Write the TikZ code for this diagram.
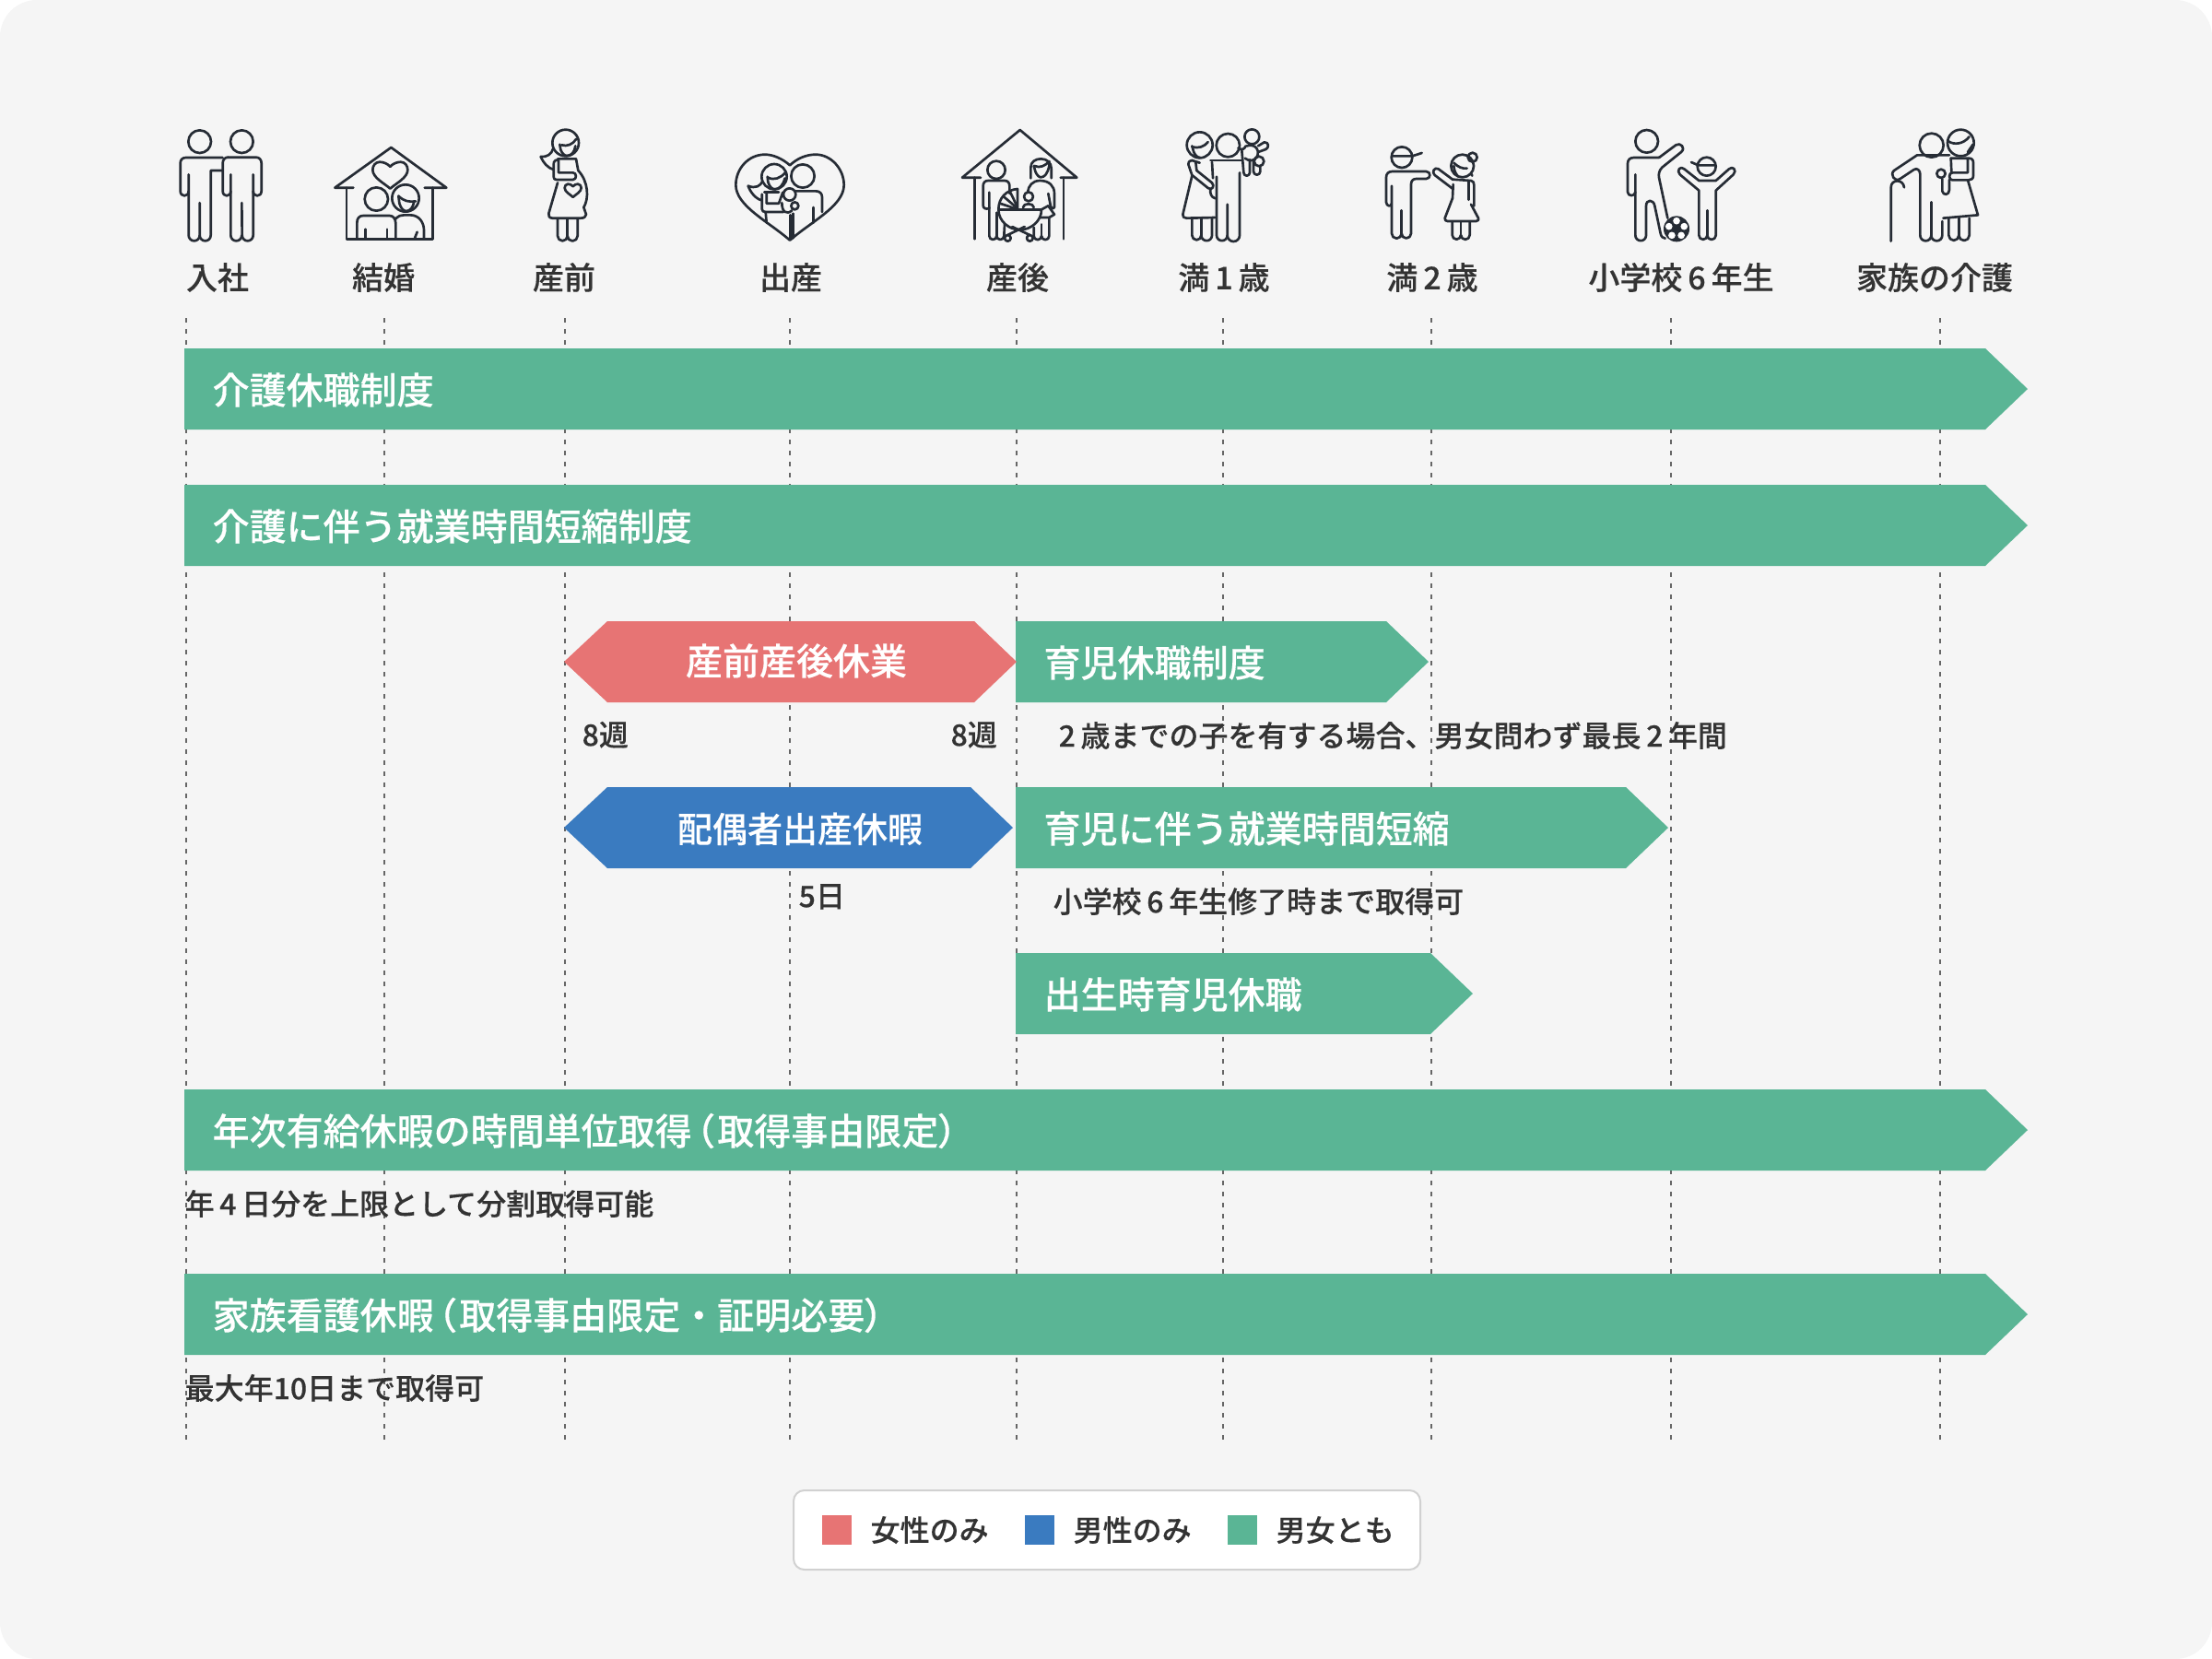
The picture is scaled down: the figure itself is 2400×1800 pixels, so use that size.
\documentclass[tikz,border=0pt]{standalone}
\usepackage{fontspec}
\setmainfont{Noto Sans CJK JP Medium}[WordSpace=0.78,FakeBold=0.25]
\newfontfamily\jppalt{Noto Sans CJK JP Medium}[RawFeature=+palt,FakeBold=0.25]
\definecolor{bgc}{HTML}{F5F5F5}
\definecolor{grn}{HTML}{5AB595}
\definecolor{rd}{HTML}{E77474}
\definecolor{blu}{HTML}{3A7BC0}
\definecolor{ink}{HTML}{333333}
\definecolor{icn}{HTML}{262C35}
\definecolor{grd}{HTML}{666666}
\newcommand{\lbk}{\kern1.2pt{\jppalt （}\kern1.1pt}
\newcommand{\rbk}{{\jppalt ）}\kern0.9pt}
% U-shaped foot: from left side to right side, bulging down
\newcommand{\uu}[1]{arc[start angle=180,end angle=0,radius=#1]}
\newcommand{\hrt}[4]{\begin{scope}[shift={(#1,#2)},x=#3*0.1pt,y=-#4*0.1pt]
 \draw (0,-0.5) .. controls (-0.15,-0.7) and (-0.4,-0.8) .. (-0.6,-0.8) .. controls (-0.85,-0.8) and (-1,-0.55) .. (-1,-0.3) .. controls (-1,0.2) and (-0.35,0.55) .. (0,0.9) .. controls (0.35,0.55) and (1,0.2) .. (1,-0.3) .. controls (1,-0.55) and (0.85,-0.8) .. (0.6,-0.8) .. controls (0.4,-0.8) and (0.15,-0.7) .. (0,-0.5) -- cycle;
 \end{scope}}
\newcommand{\gbar}[5]{\fill[grn] (#2,#4) -- (#3-46,#4) -- (#3,#4+44) -- (#3-46,#4+88) -- (#2,#4+88) -- cycle;
 \node[bigtxt,anchor=west] (#1) at (#2+30,#4+45) {#5};}
\tikzset{
 x=0.3pt,y=-0.3pt,
 bigtxt/.style={inner sep=0pt,text=white,font=\fontsize{12}{14}\selectfont,text height=10.56pt,text depth=1.44pt},
 midtxt/.style={inner sep=0pt,text=white,font=\fontsize{11.4}{14}\selectfont,text height=10pt,text depth=1.4pt},
 smalltxt/.style={inner sep=0pt,text=ink,font=\fontsize{9.6}{12}\selectfont,text height=8.45pt,text depth=1.15pt},
 labeltxt/.style={inner sep=0pt,text=ink,font=\fontsize{10.2}{12}\selectfont,text height=8.98pt,text depth=1.22pt},
 guide/.style={draw=grd,line width=0.55pt,dash pattern=on 1.55pt off 2.05pt},
 icon/.style={x=0.1pt,y=-0.1pt,draw=icn,line width=0.8pt,line cap=round,line join=round},
}
\begin{document}
\begin{tikzpicture}
\useasboundingbox (0,0) rectangle (2400,1800);
\fill[white] (0,0) rectangle (2400,1800);
\fill[bgc,rounded corners=12pt] (0,0) rectangle (2400,1800);

% guides
\foreach \n/\gx in {a/202,b/417,c/613,d/857,e/1103,f/1327,g/1553,h/1813,i/2105}{
 \coordinate (\n t) at (\gx,345);
 \coordinate (\n b) at (\gx,1562);
 \draw[guide] (\n t) -- (\n b);
}

% labels
\foreach \n/\lx/\tx in {l1/236/入社,l2/416/結婚,l3/612/産前,l4/858/出産,l5/1104/産後,l6/1328/満 1 歳,l7/1554/満 2 歳,l8/1824/小学校 6 年生,l9/2099/家族の介護}{
 \node[labeltxt] (\n) at (\lx,301) {\tx};
}

% full width bars
\gbar{b1}{200}{2200}{378}{介護休職制度}
\gbar{b2}{200}{2200}{526}{介護に伴う就業時間短縮制度}
\gbar{b3}{1102}{1550}{674}{育児休職制度}
\gbar{b4}{1102}{1810}{854}{育児に伴う就業時間短縮}
\gbar{b5}{1102}{1598}{1034}{出生時育児休職}
\gbar{b6}{200}{2200}{1182}{年次有給休暇の時間単位取得\lbk 取得事由限定\rbk}
\gbar{b7}{200}{2200}{1382}{家族看護休暇\lbk 取得事由限定・証明必要\rbk}

% hexagons
\fill[rd] (612,718) -- (659,674) -- (1057,674) -- (1103,718) -- (1057,762) -- (659,762) -- cycle;
\node[bigtxt] (h1) at (864,717) {産前産後休業};
\fill[blu] (612,898) -- (659,854) -- (1053,854) -- (1099,898) -- (1053,942) -- (659,942) -- cycle;
\node[midtxt] (h2) at (868,899.5) {配偶者出産休暇};

% notes
\node[smalltxt,anchor=west] (n1) at (631,797) {8週};
\node[smalltxt,anchor=west] (n2) at (1031,797) {8週};
\node[smalltxt,anchor=west] (n3) at (1148,798) {2 歳までの子を有する場合、男女問わず最長 2 年間};
\node[smalltxt,anchor=west] (n4) at (866,972) {5日};
\node[smalltxt,anchor=west] (n5) at (1142,978) {小学校 6 年生修了時まで取得可};
\node[smalltxt,anchor=west] (n6) at (200,1306) {年 4 日分を上限として分割取得可能};
\node[smalltxt,anchor=west] (n7) at (200,1506) {最大年10日まで取得可};

% legend
\draw[draw=black!18,fill=white,line width=0.6pt,rounded corners=3.5pt] (861,1617) rectangle (1541,1703);
\fill[rd] (892,1644) rectangle (924,1676);
\fill[blu] (1112,1644) rectangle (1144,1676);
\fill[grn] (1332,1644) rectangle (1364,1676);
\node[smalltxt,anchor=west] (k1) at (944,1660) {女性のみ};
\node[smalltxt,anchor=west] (k2) at (1164,1660) {男性のみ};
\node[smalltxt,anchor=west] (k3) at (1384,1660) {男女とも};

% icon 1: two men
\begin{scope}[shift={(190,130)},icon]
\draw (80,71) circle[radius=37];
\draw (217,71) circle[radius=37];
\draw (155,123) -- (35,123) .. controls (24,123) and (17,130) .. (17,141) -- (17,232) .. controls (17,252) and (44,252) .. (44,232);
\draw (44,178) -- (44,376) \uu{18} -- (80,270);
\draw (80,376) \uu{18} -- (116,165) -- (152,165);
\draw (172,122) -- (263,122) .. controls (274,122) and (281,130) .. (281,141) -- (281,232) .. controls (281,252) and (254,252) .. (254,232);
\draw (254,178) -- (254,376) arc[start angle=0,end angle=180,radius=18] -- (217,270);
\draw (217,376) arc[start angle=0,end angle=180,radius=18] -- (181,178);
\draw (181,232) .. controls (181,252) and (155,252) .. (155,232) -- (155,141) .. controls (155,130) and (162,122) .. (172,122);
\end{scope}

% icon 2 and heart house
\begin{scope}[shift={(190,130)},icon]
\draw (580,221) -- (520,221) -- (703,90) -- (883,221) -- (812,221);
\draw (558,221) -- (558,388) -- (838,388) -- (838,221);
\hrt{700}{178}{57}{51}
\draw (655,258) circle[radius=38];
\draw (750,255) circle[radius=44];
\draw (727,248) .. controls (745,265) and (760,268) .. (783,265);
\draw (727,248) -- (730,272) .. controls (735,290) and (745,297) .. (752,297) .. controls (765,297) and (775,285) .. (778,265);
\draw (592,385) -- (592,335) .. controls (592,320) and (600,312) .. (612,312) -- (698,312) .. controls (710,312) and (718,322) .. (718,338) -- (718,385);
\draw (620,356) -- (620,385);
\draw (690,356) -- (690,385);
\draw (718,322) .. controls (728,312) and (735,310) .. (745,310) -- (765,310) .. controls (795,310) and (810,335) .. (810,360) -- (810,385);
\draw (788,365) -- (780,385);
\end{scope}

% icon 3: pregnant
\begin{scope}[shift={(570,130)},icon]
\draw (131,75) circle[radius=43];
\draw (118,82) .. controls (135,88) and (155,80) .. (166,62);
\draw (112,80) -- (115,98) .. controls (120,110) and (128,117) .. (135,117) .. controls (150,117) and (160,105) .. (163,85);
\draw (90,95) .. controls (85,112) and (70,122) .. (50,120) .. controls (58,140) and (75,158) .. (92,162);
\draw (105,127) -- (165,127) -- (172,165) .. controls (205,200) and (208,255) .. (190,285) -- (198,308) .. controls (198,316) and (190,320) .. (180,320) -- (88,320) .. controls (78,320) and (74,312) .. (76,305) -- (105,205);
\draw (108,130) -- (98,132) .. controls (92,135) and (92,140) .. (92,150) -- (92,185) .. controls (92,192) and (95,195) .. (102,195) -- (155,195) .. controls (168,195) and (168,172) .. (155,172) -- (108,172) -- (108,132);
\hrt{155}{229}{27}{25}
\draw (105,322) -- (105,378) \uu{16} \uu{16.5} -- (170,322);
\draw (137,322) -- (137,378);
\end{scope}

% icon 4: heart family
\begin{scope}[shift={(570,130)},icon]
\draw (861,148) .. controls (835,125) and (805,113) .. (780,113) .. controls (725,113) and (685,160) .. (685,212) .. controls (685,280) and (790,330) .. (861,392) .. controls (932,330) and (1037,280) .. (1037,212) .. controls (1037,160) and (995,113) .. (945,113) .. controls (915,113) and (885,125) .. (861,148) -- cycle;
\draw (810,185) circle[radius=41];
\draw (790,188) .. controls (810,198) and (830,190) .. (846,172);
\draw (788,185) -- (790,203) .. controls (795,218) and (803,226) .. (812,226) .. controls (828,226) and (840,210) .. (845,190);
\draw (772,200) .. controls (765,215) and (750,225) .. (725,215) .. controls (732,235) and (750,258) .. (770,262);
\draw (903,183) circle[radius=38];
\draw (880,232) -- (945,232) .. controls (958,232) and (966,240) .. (966,252) -- (966,300);
\draw (938,285) -- (938,335);
\draw (778,235) -- (825,235);
\draw (770,242) -- (770,290) .. controls (770,297) and (775,300) .. (782,300) -- (840,300);
\draw (785,238) -- (785,272) -- (825,272) -- (838,236);
\draw (782,300) -- (785,335);
\draw (860,243) circle[radius=20];
\draw (877,280) circle[radius=12];
\draw (835,270) .. controls (835,300) and (850,310) .. (868,295);
\draw (862,310) -- (862,388);
\draw (872,305) -- (872,385);
\end{scope}

% icon 5: house with pram
\begin{scope}[shift={(1030,130)},icon]
\draw (102,188) -- (42,188) -- (230,33) -- (415,188) -- (362,188);
\draw (82,188) -- (82,388);
\draw (372,188) -- (372,388);
\draw (153,163) circle[radius=29];
\draw (130,236) -- (130,288) .. controls (118,292) and (110,288) .. (110,278) -- (110,215) .. controls (110,205) and (116,198) .. (126,198) -- (180,198) .. controls (190,198) and (196,205) .. (196,215) -- (196,240);
\draw (130,285) -- (130,378) \uu{12} \uu{12} -- (180,340);
\draw (155,340) -- (155,378);
\draw (265,190) -- (265,155) .. controls (265,137) and (280,127) .. (298,127) .. controls (318,127) and (332,140) .. (332,158) -- (332,190);
\draw (275,150) -- (280,168) .. controls (285,180) and (292,187) .. (298,187) .. controls (310,187) and (320,175) .. (325,150) -- (325,135);
\draw (277,150) .. controls (295,158) and (312,150) .. (325,135);
\draw (255,235) .. controls (258,215) and (270,198) .. (295,198) .. controls (325,198) and (342,215) .. (342,240) -- (342,285) .. controls (340,292) and (332,290) .. (330,282) -- (322,240);
\draw (322,280) -- (342,308) -- (325,318) -- (295,318);
\draw (275,350) -- (275,378) \uu{12.5} \uu{12.5} -- (325,318);
\draw (300,340) -- (300,378);
\draw (160,292) -- (300,292);
\draw (160,292) .. controls (160,330) and (195,358) .. (230,358) .. controls (265,358) and (300,330) .. (300,292) -- (322,280);
\draw (160,292) .. controls (160,255) and (185,228) .. (222,225) -- (222,292);
\draw (165,272) -- (218,290);
\draw (177,250) -- (218,285);
\draw (198,235) -- (220,280);
\draw (258,250) circle[radius=15];
\draw (240,285) .. controls (240,270) and (275,270) .. (275,285);
\draw (190,385) circle[radius=10];
\draw (262,385) circle[radius=10];
\draw (190,375) -- (245,348);
\draw (262,375) -- (205,348);
\draw (155,302) -- (155,345);
\end{scope}

% icon 6: couple and baby
\begin{scope}[shift={(1030,130)},icon]
\draw (815,82) circle[radius=42];
\draw (790,88) .. controls (810,94) and (830,88) .. (842,72);
\draw (790,85) -- (795,103) .. controls (800,116) and (808,123) .. (816,123);
\draw (907,83) circle[radius=38];
\draw (850,132) -- (950,132);
\draw (945,172) -- (945,376) arc[start angle=0,end angle=180,radius=20] -- (905,275);
\draw (905,376) arc[start angle=0,end angle=180,radius=17.5] -- (870,185);
\draw (952,100) -- (958,172) \uu{10} -- (978,130);
\draw (985,55) circle[radius=24];
\draw (940,92) .. controls (955,100) and (960,95) .. (965,85);
\draw (968,85) .. controls (1000,75) and (1012,105) .. (1000,122) .. controls (992,135) and (975,135) .. (962,125);
\draw (1005,85) -- (1025,73) .. controls (1040,72) and (1042,90) .. (1030,96) -- (1008,104);
\draw (1008,135) circle[radius=16];
\draw (990,135) -- (990,168) \uu{11} -- (1012,152);
\draw (778,145) .. controls (778,135) and (785,132) .. (790,132) -- (815,140);
\draw (778,145) -- (790,180) -- (842,222) .. controls (855,232) and (865,215) .. (855,205) -- (805,165) -- (802,138);
\draw (855,138) -- (858,190);
\draw (790,182) -- (760,308) .. controls (758,316) and (765,320) .. (772,320) -- (865,318);
\draw (850,225) .. controls (848,240) and (852,252) .. (866,256);
\draw (790,320) -- (790,376) \uu{15} \uu{17.5} -- (855,320);
\draw (820,320) -- (820,376);
\end{scope}

% icon 7: boy and girl
\begin{scope}[shift={(1490,130)},icon]
\draw (93,122) circle[radius=34];
\draw (60,118) -- (127,118) -- (158,108);
\draw (60,215) -- (60,370) \uu{16} \uu{15.5} -- (123,210) .. controls (123,198) and (130,192) .. (140,192) -- (172,192) .. controls (188,192) and (188,168) .. (172,168) -- (62,168) .. controls (50,168) and (42,175) .. (42,187) -- (42,268) .. controls (42,282) and (60,285) .. (60,270);
\draw (92,295) -- (92,370);
\draw (290,150) circle[radius=37];
\draw (323,122) circle[radius=15];
\draw (262,140) .. controls (275,153) and (290,160) .. (305,158);
\draw (262,150) .. controls (263,165) and (268,175) .. (275,183);
\draw (318,175) -- (322,182);
\draw (258,224) -- (200,180) .. controls (188,170) and (200,152) .. (212,160) -- (258,194) -- (318,198) .. controls (325,198) and (328,205) .. (328,212) -- (328,280);
\draw (310,200) -- (310,260);
\draw (260,210) -- (258,255) -- (233,320) .. controls (232,326) and (236,330) .. (242,330) -- (335,330) .. controls (342,330) and (344,324) .. (342,320) -- (318,275);
\draw (257,332) -- (257,375) \uu{14} \uu{14.5} -- (314,332);
\draw (285,332) -- (285,375);
\end{scope}

% icon 8: father, child and ball
\begin{scope}[shift={(1490,130)},icon]
\draw (890,70) circle[radius=37];
\draw (930,123) -- (848,123) .. controls (836,123) and (828,130) .. (828,142) -- (828,235) .. controls (828,250) and (853,250) .. (853,235);
\draw (853,178) -- (853,376) \uu{17.5} -- (888,280) .. controls (888,258) and (912,258) .. (916,280) -- (935,370) .. controls (937,380) and (942,385) .. (950,386);
\draw (930,123) -- (985,82) .. controls (1000,72) and (1018,92) .. (1002,105) -- (940,155) .. controls (930,165) and (928,178) .. (930,188) -- (958,320);
\fill[icn] (987,355) circle[radius=42];
\foreach \a in {-90,-18,54,126,198}{\fill[white] (987,355) ++(\a:26) circle[radius=11.5];}
\draw (1085,152) circle[radius=30];
\draw (1035,138) -- (1058,148) -- (1114,148);
\draw (1060,230) -- (1060,376) \uu{13.5} \uu{14} -- (1115,230) -- (1172,178) .. controls (1185,165) and (1170,148) .. (1158,160) -- (1115,198) -- (1060,198) -- (1012,160) .. controls (1000,148) and (985,165) .. (998,178) -- (1060,230);
\draw (1087,295) -- (1087,376);
\end{scope}

% icon 9: elder and carer
\begin{scope}[shift={(1770,120)},icon]
\draw (977,113) circle[radius=39];
\draw (1072,105) circle[radius=43];
\draw (1032,100) .. controls (1050,112) and (1080,110) .. (1100,85);
\draw (1112,110) -- (1095,135);
\draw (1035,145) -- (930,145) -- (855,195) .. controls (840,208) and (858,235) .. (875,222) -- (920,192) .. controls (930,185) and (940,195) .. (940,207) -- (940,406) \uu{18} \uu{18} -- (1012,360);
\draw (976,298) -- (976,406);
\draw (1008,205) circle[radius=14];
\draw (1012,222) -- (1012,262) .. controls (1015,278) and (1035,275) .. (1035,258) -- (1035,225);
\draw (845,425) -- (845,250) .. controls (845,222) and (885,222) .. (888,250);
\draw (1040,155) -- (1098,155) .. controls (1108,155) and (1113,160) .. (1113,170) -- (1113,212) .. controls (1113,222) and (1106,226) .. (1098,226) -- (1045,226) .. controls (1032,226) and (1032,202) .. (1045,202) -- (1095,202) -- (1095,158);
\draw (1040,155) -- (1042,202);
\draw (1095,226) -- (1128,340) -- (1015,350);
\draw (1033,350) -- (1033,406) \uu{16.5} \uu{17} -- (1100,350);
\draw (1066,350) -- (1066,406);
\end{scope}
\end{tikzpicture}
\end{document}
